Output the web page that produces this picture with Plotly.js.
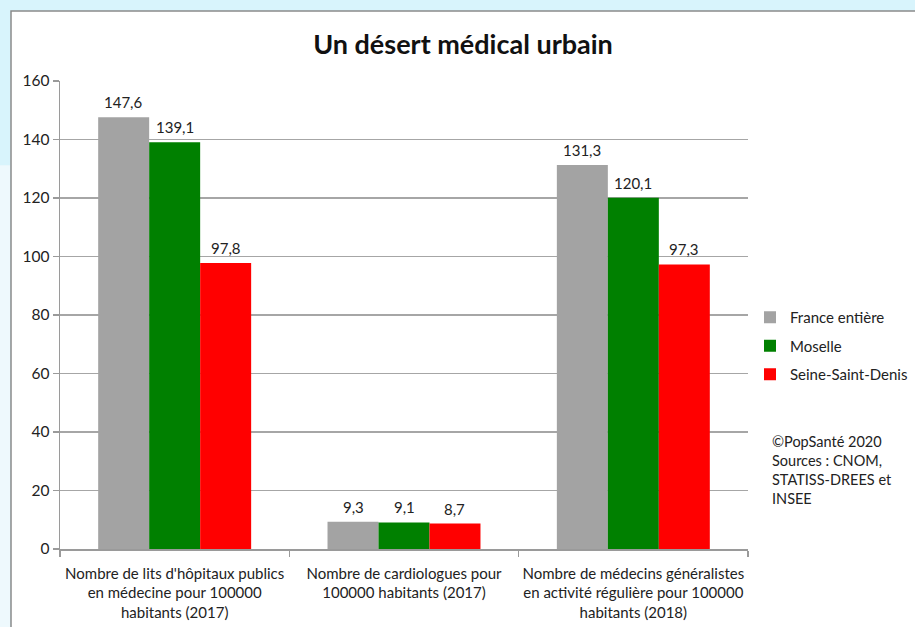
<!DOCTYPE html>
<html>
<head>
<meta charset="utf-8">
<script src="https://cdn.plot.ly/plotly-3.0.1.min.js"></script>
<style>html,body{margin:0;padding:0;background:#d8f4fc;}#chart{width:915px;height:627px;}</style>
</head>
<body>
<div id="chart"></div>
<script>
const categories = [
  "Nombre de lits d'hôpitaux publics<br>en médecine pour 100000<br>habitants (2017)",
  "Nombre de cardiologues pour<br>100000 habitants (2017)",
  "Nombre de médecins généralistes<br>en activité régulière pour 100000<br>habitants (2018)"
];
const seriesNames = ["France entière", "Moselle", "Seine-Saint-Denis"];
const franceValues = [147.6, 9.3, 131.3];
const moselleValues = [139.1, 9.1, 120.1];
const ssdValues = [97.8, 8.7, 97.3];
const yTicks = [0, 20, 40, 60, 80, 100, 120, 140, 160];
const sourceNote = "©PopSanté 2020<br>Sources : CNOM,<br>STATISS-DREES et<br>INSEE";

const FONT = "Lato, 'Open Sans', sans-serif";
const colors = ["#a3a3a3", "#008000", "#ff0000"];
const allValues = [franceValues, moselleValues, ssdValues];

const W = 915, H = 627;
const margin = {l: 60, r: 167, t: 81, b: 78};
const bargap = 0.333;
const plotW = W - margin.l - margin.r;
const barPx = plotW / categories.length * (1 - bargap) / allValues.length;

const traces = allValues.map((vals, i) => ({
  type: "bar",
  name: seriesNames[i],
  x: categories,
  y: vals,
  legendgroup: "g" + i,
  marker: {color: colors[i], line: {width: 0}},
  hoverinfo: "skip"
}));

const fmt = v => v.toFixed(1).replace(".", ",");
const labelAnns = [];
allValues.forEach((vals, i) => {
  vals.forEach((v, j) => {
    labelAnns.push({
      xref: "x", yref: "y", x: categories[j], y: v,
      xshift: (i - 1) * barPx, yshift: 15,
      xanchor: "center", yanchor: "middle",
      text: fmt(v), showarrow: false,
      font: {family: FONT, size: 15, color: "#222"}
    });
  });
});

const layout = {
  width: W, height: H,
  margin: margin,
  paper_bgcolor: "#d8f4fc",
  plot_bgcolor: "rgba(0,0,0,0)",
  barmode: "group",
  bargap: bargap,
  bargroupgap: 0,
  font: {family: FONT, size: 15, color: "#222"},
  title: {
    text: "<b>Un désert médical urbain</b>",
    font: {family: FONT, size: 27, color: "#111"},
    x: 463 / W, xanchor: "center",
    y: 1 - 45 / H, yanchor: "middle"
  },
  xaxis: {
    type: "category",
    tickson: "boundaries",
    tickangle: 0,
    ticks: "outside", ticklen: 6, tickcolor: "#9a9a9a", tickwidth: 1.5,
    ticklabelstandoff: 10,
    showline: true, linecolor: "#9a9a9a", linewidth: 1.5,
    showgrid: false,
    tickfont: {family: FONT, size: 15, color: "#222"},
    fixedrange: true
  },
  yaxis: {
    range: [0, 160],
    tickvals: yTicks,
    ticktext: yTicks.map(String),
    ticks: "outside", ticklen: 6, tickcolor: "#9a9a9a", tickwidth: 1.5,
    showline: true, linecolor: "#9a9a9a", linewidth: 1.5,
    showgrid: true, gridcolor: "#a6a6a6", gridwidth: 1.5,
    zeroline: false,
    tickfont: {family: FONT, size: 15.5, color: "#222"},
    fixedrange: true
  },
  showlegend: true,
  legend: {
    xref: "container", yref: "container",
    x: 750 / W, xanchor: "left",
    y: 1 - 301 / H, yanchor: "top",
    traceorder: "grouped",
    tracegroupgap: 6,
    font: {family: FONT, size: 15, color: "#222"},
    bgcolor: "rgba(0,0,0,0)",
    itemclick: false, itemdoubleclick: false
  },
  shapes: [
    {type: "rect", xref: "paper", yref: "paper", layer: "below",
     x0: -49 / plotW, x1: 1.3, y0: -0.2, y1: 1.1496,
     fillcolor: "#ffffff", line: {color: "#8a8a8a", width: 1.5}},
    {type: "rect", xref: "paper", yref: "paper", layer: "below",
     x0: -60 / plotW, x1: -50 / plotW, y0: -0.2, y1: 0.82,
     fillcolor: "#eef9fd", line: {width: 0}}
  ],
  annotations: labelAnns.concat([
    {xref: "paper", yref: "paper", x: 1 + 22 / plotW, y: 0.253, xanchor: "left", yanchor: "top",
     text: sourceNote, showarrow: false, align: "left",
     font: {family: FONT, size: 14.5, color: "#222"}}
  ])
};

Plotly.newPlot("chart", traces, layout, {displayModeBar: false, staticPlot: true});
</script>
</body>
</html>
